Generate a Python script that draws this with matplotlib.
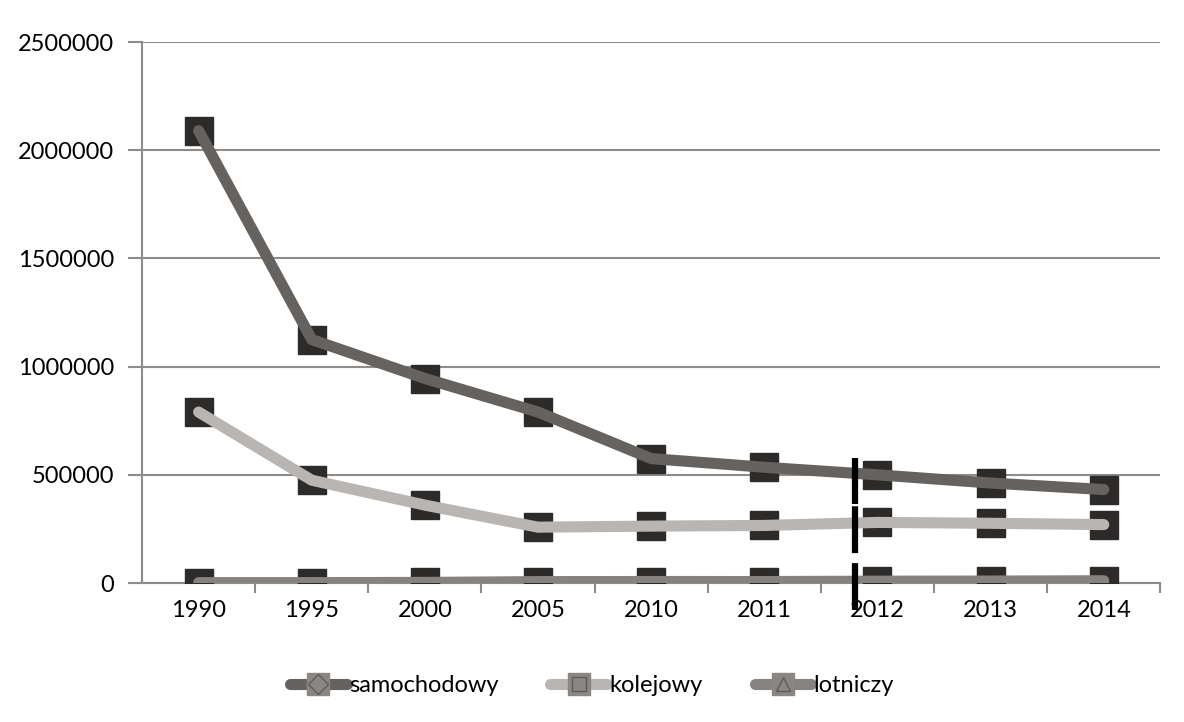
"""Przewozy pasażerów według rodzaju transportu, 1990-2014."""
import matplotlib.pyplot as plt
from matplotlib.lines import Line2D
from matplotlib.ticker import FixedLocator

plt.rcParams["font.family"] = ["Lato", "DejaVu Sans"]

years = ["1990", "1995", "2000", "2005", "2010", "2011", "2012", "2013", "2014"]
samochodowy = [2090000, 1125000, 945000, 790000, 575000, 535000, 500000, 462000, 432000]
kolejowy = [790000, 475000, 360000, 258000, 263000, 266000, 280000, 276000, 270000]
lotniczy = [1700, 1900, 2800, 6500, 7000, 6800, 8500, 9000, 10500]

series = [
    ("samochodowy", samochodowy, "#65625f", "D"),
    ("kolejowy", kolejowy, "#b8b5b3", "s"),
    ("lotniczy", lotniczy, "#86827f", "^"),
]
GRID = "#8e8b89"

fig = plt.figure(figsize=(11.84, 7.22), dpi=100)
ax = fig.add_axes([0.12, 0.1925, 0.86, 0.7493])

x = list(range(len(years)))
for name, vals, color, _ in series:
    # dark square markers sit underneath the thick line
    ax.plot(x, vals, ls="none", marker="s", ms=20, mfc="#2d2b29", mec="#2d2b29",
            zorder=3)
    ax.plot(x, vals, color=color, lw=8, solid_capstyle="round",
            solid_joinstyle="round", zorder=4)

ax.set_ylim(0, 2500000)
ax.set_xlim(-0.5, len(years) - 0.5)
ax.set_yticks(range(0, 2500001, 500000))
ax.set_yticklabels([str(v) for v in range(0, 2500001, 500000)])
ax.set_xticks(x)
ax.set_xticklabels(years)
ax.xaxis.set_minor_locator(FixedLocator([i + 0.5 for i in range(len(years))]))

ax.grid(axis="y", color=GRID, lw=1.5, zorder=1)
ax.set_axisbelow(True)
for side in ("top", "right"):
    ax.spines[side].set_visible(False)
for side in ("left", "bottom"):
    ax.spines[side].set_color(GRID)
    ax.spines[side].set_linewidth(1.5)

ax.tick_params(axis="y", length=10, width=1.5, color=GRID, labelsize=17, pad=10)
ax.tick_params(axis="x", which="major", length=0, labelsize=17, pad=12)
ax.tick_params(axis="x", which="minor", length=7, width=1.5, color=GRID)

# dashed black marker line beside 2012
ax.vlines(5.8, -125000, 580000, colors="black", lw=4.5,
          linestyles=(0, (7.5, 1.6, 7.5, 0.35)), clip_on=False, zorder=6)

handles = []
for name, vals, color, mk in series:
    base = Line2D([], [], color=color, lw=8, solid_capstyle="round",
                  marker="s", ms=16, mfc="#8a8683", mec="#8a8683")
    inner = Line2D([], [], ls="none", marker=mk, ms=10, mfc="none",
                   mec="#5e5b59", mew=1)
    handles.append((base, inner))
fig.legend(handles, [s[0] for s in series], loc="center", ncol=3,
           bbox_to_anchor=(0.5, 0.05), frameon=False, fontsize=17,
           handlelength=2.4, handletextpad=0.1, columnspacing=2.2)

fig.savefig("out.png", dpi=100)
